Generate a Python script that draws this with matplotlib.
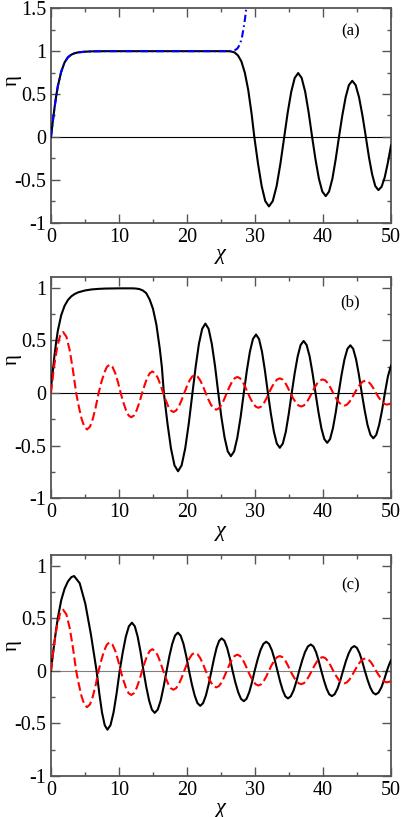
import matplotlib
matplotlib.use("Agg")
import matplotlib.pyplot as plt
from matplotlib.ticker import FixedLocator

plt.rcParams['font.family'] = ['Liberation Serif', 'DejaVu Serif']
plt.rcParams['axes.unicode_minus'] = False

# ---------------- data ----------------
x_ticks = [0, 10, 20, 30, 40, 50]
x_tick_labels = ["0", "10", "20", "30", "40", "50"]
x_minor = [5, 15, 25, 35, 45]

ya_ticks = [-1, -0.5, 0, 0.5, 1, 1.5]
ya_tick_labels = ["-1", "-0.5", "0", "0.5", "1", "1.5"]
ya_minor = [-0.75, -0.25, 0.25, 0.75, 1.25]
ybc_ticks = [-1, -0.5, 0, 0.5, 1]
ybc_tick_labels = ["-1", "-0.5", "0", "0.5", "1"]
ybc_minor = [-0.75, -0.25, 0.25, 0.75]

panel_labels = ["(a)", "(b)", "(c)"]

a_black_x = [0, 0.25, 0.5, 0.75, 1, 1.5, 2, 2.5, 3, 3.5, 4, 5, 6, 8, 26, 26.5, 27, 27.5, 28, 28.5,
             29, 29.5, 29.9, 30.44, 30.98, 31.51, 32.05, 32.61, 33.18, 33.74, 34.3, 34.81, 35.33,
             35.84, 36.35, 36.86, 37.38, 37.89, 38.4, 38.9, 39.4, 39.9, 40.4, 40.89, 41.38, 41.86,
             42.35, 42.84, 43.33, 43.81, 44.3, 44.8, 45.3, 45.8, 46.3, 46.76, 47.23, 47.69, 48.15,
             48.62, 49.08, 49.54, 50]
a_black_y = [0, 0.17, 0.33, 0.47, 0.59, 0.76, 0.87, 0.93, 0.96, 0.977, 0.986, 0.994, 0.998, 1.0,
             1.0, 0.996, 0.985, 0.95, 0.88, 0.75, 0.55, 0.27, 0.0, -0.31, -0.573, -0.748, -0.81,
             -0.748, -0.573, -0.31, 0, 0.285, 0.527, 0.688, 0.745, 0.688, 0.527, 0.285, 0,
             -0.264, -0.488, -0.637, -0.69, -0.637, -0.488, -0.264, 0, 0.251, 0.463, 0.605, 0.655,
             0.605, 0.463, 0.251, 0, -0.237, -0.438, -0.573, -0.62, -0.58, -0.47, -0.30, -0.10]

a_blue_x = [0, 0.25, 0.5, 0.75, 1, 1.5, 2, 2.5, 3, 3.5, 4, 5, 6, 8, 26, 26.5, 27, 27.4, 27.8,
            28.1, 28.35, 28.55, 28.7, 28.8]
a_blue_y = [0, 0.17, 0.33, 0.47, 0.59, 0.76, 0.87, 0.93, 0.96, 0.977, 0.986, 0.994, 0.998, 1.0,
            1.0, 1.002, 1.01, 1.03, 1.08, 1.17, 1.28, 1.39, 1.49, 1.56]

b_black_x = [0, 0.25, 0.5, 0.75, 1, 1.5, 2, 2.5, 3, 3.5, 4, 5, 6, 7, 8, 10, 12, 12.5, 13, 13.5,
             14, 14.5, 15, 15.5, 16, 16.3, 16.6, 17.12, 17.64, 18.16, 18.68, 19.21, 19.74, 20.27,
             20.8, 21.28, 21.75, 22.23, 22.7, 23.18, 23.65, 24.13, 24.6, 25.06, 25.53, 25.99,
             26.45, 26.93, 27.4, 27.88, 28.35, 28.8, 29.25, 29.7, 30.15, 30.59, 31.03, 31.46, 31.9,
             32.34, 32.78, 33.21, 33.65, 34.09, 34.53, 34.96, 35.4, 35.84, 36.28, 36.71, 37.15,
             37.59, 38.03, 38.46, 38.9, 39.33, 39.76, 40.19, 40.62, 41.04, 41.46, 41.88, 42.3,
             42.73, 43.16, 43.59, 44.02, 44.44, 44.86, 45.28, 45.7, 46.13, 46.55, 46.98, 47.4,
             47.83, 48.25, 48.68, 49.1, 49.55, 50]
b_black_y = [0.05, 0.2, 0.35, 0.48, 0.59, 0.74, 0.83, 0.885, 0.92, 0.942, 0.957, 0.975, 0.985,
             0.99, 0.993, 0.995, 0.995, 0.993, 0.988, 0.975, 0.95, 0.89, 0.80, 0.65, 0.42, 0.25, 0,
             -0.285, -0.525, -0.687, -0.743, -0.687, -0.525, -0.285, 0,
             0.253, 0.467, 0.61, 0.66, 0.61, 0.467, 0.253, 0,
             -0.23, -0.424, -0.554, -0.60, -0.554, -0.424, -0.23, 0,
             0.213, 0.393, 0.514, 0.556, 0.514, 0.393, 0.213, 0,
             -0.199, -0.368, -0.48, -0.52, -0.48, -0.368, -0.199, 0,
             0.19, 0.35, 0.457, 0.495, 0.457, 0.35, 0.19, 0,
             -0.181, -0.334, -0.437, -0.473, -0.437, -0.334, -0.181, 0,
             0.174, 0.321, 0.42, 0.454, 0.42, 0.321, 0.174, 0,
             -0.165, -0.304, -0.397, -0.43, -0.397, -0.304, -0.165, 0,
             0.16, 0.26]

red_x = [0, 0.445, 0.89, 1.335, 1.78, 2.26, 2.74, 3.22, 3.7, 4.1, 4.5, 4.9, 5.3, 5.73, 6.15, 6.58,
         7.0, 7.41, 7.82, 8.22, 8.63, 9.04, 9.44, 9.85, 10.25, 10.64, 11.03, 11.41, 11.8, 12.2,
         12.6, 13.0, 13.4, 13.78, 14.15, 14.53, 14.9, 15.3, 15.7, 16.1, 16.5, 16.88, 17.25, 17.63,
         18.0, 18.4, 18.8, 19.2, 19.6, 19.99, 20.38, 20.76, 21.15, 21.55, 21.95, 22.35, 22.75,
         23.14, 23.53, 23.91, 24.3, 24.69, 25.08, 25.46, 25.85, 26.24, 26.63, 27.01, 27.4, 27.79,
         28.18, 28.56, 28.95, 29.34, 29.73, 30.11, 30.5, 30.89, 31.28, 31.66, 32.05, 32.45, 32.85,
         33.25, 33.65, 34.04, 34.43, 34.81, 35.2, 35.6, 36.0, 36.4, 36.8, 37.19, 37.58, 37.96,
         38.35, 38.75, 39.15, 39.55, 39.95, 40.34, 40.73, 41.11, 41.5, 41.9, 42.3, 42.7, 43.1,
         43.49, 43.88, 44.26, 44.65, 45.05, 45.45, 45.85, 46.25, 46.64, 47.03, 47.41, 47.8, 48.2,
         48.6, 49.0, 49.4, 50]
red_y = [0, 0.25, 0.43, 0.545, 0.58, 0.536, 0.41, 0.222, 0, -0.132, -0.245, -0.32, -0.346,
         -0.32, -0.245, -0.132, 0, 0.103, 0.191, 0.249, 0.27, 0.249, 0.191, 0.103, 0,
         -0.088, -0.163, -0.213, -0.23, -0.213, -0.163, -0.088, 0, 0.078, 0.145, 0.189, 0.205,
         0.189, 0.145, 0.078, 0, -0.069, -0.127, -0.166, -0.18, -0.166, -0.127, -0.069, 0,
         0.065, 0.12, 0.157, 0.17, 0.157, 0.12, 0.065, 0, -0.06, -0.112, -0.146, -0.158,
         -0.146, -0.112, -0.06, 0, 0.059, 0.108, 0.141, 0.153, 0.141, 0.108, 0.059, 0,
         -0.054, -0.099, -0.129, -0.14, -0.129, -0.099, -0.054, 0, 0.054, 0.099, 0.129, 0.14,
         0.129, 0.099, 0.054, 0, -0.049, -0.09, -0.118, -0.128, -0.118, -0.09, -0.049, 0,
         0.05, 0.092, 0.12, 0.13, 0.12, 0.092, 0.05, 0, -0.046, -0.085, -0.111, -0.12,
         -0.111, -0.085, -0.046, 0, 0.045, 0.083, 0.109, 0.118, 0.109, 0.083, 0.045, 0,
         -0.042, -0.078, -0.102, -0.11, -0.10]

c_black_x = [0, 0.25, 0.5, 0.75, 1.0, 1.5, 2.0, 2.5, 3.0, 3.4, 4.22, 5.05, 5.87, 6.7, 7.1, 7.5,
             7.9, 8.3, 8.75, 9.2, 9.65, 10.1, 10.55, 11.0, 11.45, 11.9, 12.33, 12.75, 13.18, 13.6,
             14.01, 14.43, 14.84, 15.25, 15.69, 16.13, 16.56, 17.0, 17.41, 17.83, 18.24, 18.65,
             19.06, 19.48, 19.89, 20.3, 20.71, 21.13, 21.54, 21.95, 22.36, 22.78, 23.19, 23.6,
             23.98, 24.35, 24.73, 25.1, 25.5, 25.9, 26.3, 26.7, 27.11, 27.53, 27.94, 28.35, 28.75,
             29.15, 29.55, 29.95, 30.38, 30.8, 31.23, 31.65, 32.06, 32.48, 32.89, 33.3, 33.69,
             34.08, 34.46, 34.85, 35.26, 35.68, 36.09, 36.5, 36.93, 37.35, 37.78, 38.2, 38.59,
             38.98, 39.36, 39.75, 40.14, 40.53, 40.91, 41.3, 41.71, 42.13, 42.54, 42.95, 43.36,
             43.78, 44.19, 44.6, 44.99, 45.38, 45.76, 46.15, 46.55, 46.95, 47.35, 47.75, 48.16,
             48.58, 48.99, 49.4, 49.7, 50]
c_black_y = [0, 0.14, 0.27, 0.39, 0.5, 0.67, 0.78, 0.85, 0.89, 0.90, 0.832, 0.636, 0.345, 0,
             -0.214, -0.396, -0.517, -0.56, -0.517, -0.396, -0.214, 0,
             0.175, 0.323, 0.422, 0.457, 0.422, 0.323, 0.175, 0,
             -0.153, -0.283, -0.37, -0.40, -0.37, -0.283, -0.153, 0,
             0.139, 0.256, 0.334, 0.362, 0.334, 0.256, 0.139, 0,
             -0.128, -0.235, -0.308, -0.333, -0.308, -0.235, -0.128, 0,
             0.118, 0.218, 0.285, 0.308, 0.285, 0.218, 0.118, 0,
             -0.111, -0.204, -0.267, -0.289, -0.267, -0.204, -0.111, 0,
             0.106, 0.195, 0.255, 0.276, 0.255, 0.195, 0.106, 0,
             -0.101, -0.186, -0.243, -0.263, -0.243, -0.186, -0.101, 0,
             0.096, 0.177, 0.231, 0.25, 0.231, 0.177, 0.096, 0,
             -0.092, -0.17, -0.223, -0.241, -0.223, -0.17, -0.092, 0,
             0.09, 0.166, 0.217, 0.235, 0.217, 0.166, 0.09, 0,
             -0.086, -0.159, -0.208, -0.225, -0.208, -0.159, -0.086, 0,
             0.055, 0.10]

# ---------------- figure ----------------
W, H = 402, 817
fig = plt.figure(figsize=(W / 100, H / 100), dpi=100)

def px_axes(left, top, right, bottom):
    return [left / W, 1 - bottom / H, (right - left) / W, (bottom - top) / H]

ax_a = fig.add_axes(px_axes(51, 8.3, 391, 222.7))
ax_b = fig.add_axes(px_axes(51, 277.3, 391, 498.3))
ax_c = fig.add_axes(px_axes(51, 555, 391, 776))

spine_col = "#555555"
tick_fs = 14.5

def style(ax, ylim, yt, ytl, ymin, zero_col, label, ylab_y, lab_y):
    ax.set_xlim(0, 50)
    ax.set_ylim(*ylim)
    ax.axhline(0, color=zero_col, lw=0.8, zorder=1)
    ax.set_xticks(x_ticks)
    ax.set_xticklabels(x_tick_labels)
    ax.xaxis.set_minor_locator(FixedLocator(x_minor))
    ax.set_yticks(yt)
    ax.set_yticklabels(ytl)
    ax.yaxis.set_minor_locator(FixedLocator(ymin))
    ax.tick_params(which='both', direction='in', top=True, right=True,
                   color=spine_col, width=1.0, labelsize=tick_fs)
    ax.tick_params(which='major', length=6.5, pad=3.5)
    ax.tick_params(which='minor', length=3.2)
    for s in ax.spines.values():
        s.set_color(spine_col)
        s.set_linewidth(1.3)
    ax.set_xlabel("χ", fontsize=16, style='italic')
    ax.xaxis.set_label_coords(0.5, -0.148)
    ax.xaxis.label.set_va('center')
    ax.set_ylabel("η", fontsize=15)
    ax.yaxis.set_label_coords(-0.113, ylab_y)
    ax.yaxis.label.set_va('center')
    ax.yaxis.label.set_ha('center')
    ax.text(0.88, lab_y, label, transform=ax.transAxes, ha='center', va='center',
            fontsize=12)

style(ax_a, (-1, 1.5), ya_ticks, ya_tick_labels, ya_minor, "black", panel_labels[0], 0.665, 0.89)
style(ax_b, (-1, 1.1), ybc_ticks, ybc_tick_labels, ybc_minor, "black", panel_labels[1], 0.63, 0.885)
style(ax_c, (-1, 1.1), ybc_ticks, ybc_tick_labels, ybc_minor, "#808080", panel_labels[2], 0.59, 0.864)

ax_a.plot(a_black_x, a_black_y, color="black", lw=1.5, zorder=3)
ax_a.plot(a_blue_x, a_blue_y, color="#0000ff", lw=1.5, ls=(0, (3.5, 1.6, 0.8, 1.6)), zorder=4)

ax_b.plot(b_black_x, b_black_y, color="black", lw=1.5, zorder=3)
ax_b.plot(red_x, red_y, color="#ff0000", lw=1.5, ls=(0, (4.2, 1.8)), zorder=4)

ax_c.plot(c_black_x, c_black_y, color="black", lw=1.5, zorder=3)
ax_c.plot(red_x, red_y, color="#ff0000", lw=1.5, ls=(0, (4.2, 1.8)), zorder=4)

fig.savefig("out.png", dpi=100)
